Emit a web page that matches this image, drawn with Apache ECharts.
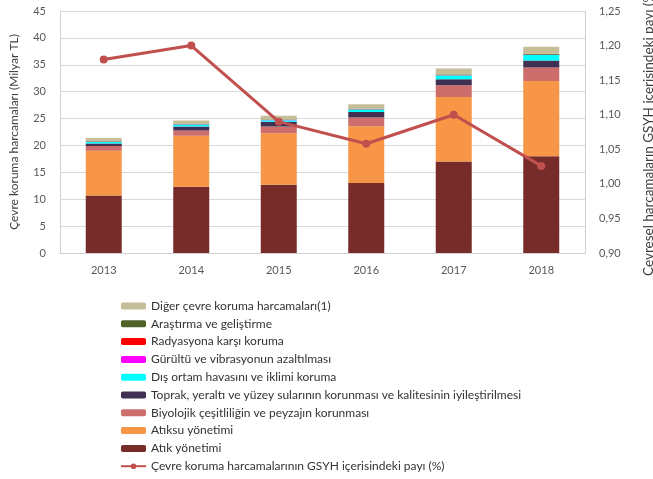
<!DOCTYPE html>
<html><head><meta charset="utf-8">
<script src="https://cdn.jsdelivr.net/npm/echarts@6/dist/echarts.min.js"></script>
<style>html,body{margin:0;padding:0;background:#fff}#c{width:653px;height:479px}</style>
</head><body><div id="c"></div>
<script>
const years = ['2013','2014','2015','2016','2017','2018'];
const atik = [10.7, 12.3, 12.7, 13.0, 17.0, 18.0];
const atiksu = [8.3, 9.5, 9.55, 10.55, 12.0, 14.0];
const biyolojik = [0.9, 1.0, 1.25, 1.65, 2.2, 2.5];
const toprak = [0.45, 0.7, 0.9, 1.0, 1.1, 1.3];
const disOrtam = [0.3, 0.4, 0.3, 0.5, 0.7, 1.0];
const gurultu = [0.03, 0.03, 0.03, 0.03, 0.04, 0.05];
const radyasyon = [0.01, 0.01, 0.01, 0.01, 0.01, 0.01];
const arastirma = [0.1, 0.1, 0.1, 0.1, 0.15, 0.2];
const diger = [0.6, 0.6, 0.7, 0.8, 1.1, 1.3];
const gsyhPayi = [1.18, 1.20, 1.09, 1.058, 1.10, 1.026];

const names = {
  diger: 'Diğer çevre koruma harcamaları(1)',
  arastirma: 'Araştırma ve geliştirme',
  radyasyon: 'Radyasyona karşı koruma',
  gurultu: 'Gürültü ve vibrasyonun azaltılması',
  dis: 'Dış ortam havasını ve iklimi koruma',
  toprak: 'Toprak, yeraltı ve yüzey sularının korunması ve kalitesinin iyileştirilmesi',
  biyo: 'Biyolojik çeşitliliğin ve peyzajın korunması',
  atiksu: 'Atıksu yönetimi',
  atik: 'Atık yönetimi',
  line: 'Çevre koruma harcamalarının GSYH içerisindeki payı (%)'
};
const font = 'Lato';
function bar(name, data, color) {
  return { name, type: 'bar', stack: 'total', data, barWidth: 36, itemStyle: { color }, emphasis: { disabled: true } };
}
const chart = echarts.init(document.getElementById('c'));
chart.setOption({
  animation: false,
  textStyle: { fontFamily: font },
  grid: { left: 60, right: 68, top: 11, bottom: 226, containLabel: false, outerBoundsMode: 'none' },
  legend: {
    orient: 'vertical', left: 120, top: 299, padding: 0, itemWidth: 25, itemHeight: 7, itemGap: 3.8,
    textStyle: { fontSize: 12, color: '#333', fontFamily: font, lineHeight: 14 },
    data: [names.diger, names.arastirma, names.radyasyon, names.gurultu, names.dis, names.toprak, names.biyo, names.atiksu, names.atik, names.line]
  },
  xAxis: {
    type: 'category', data: years,
    axisLine: { lineStyle: { color: '#d0d0d0' } }, axisTick: { show: false },
    axisLabel: { color: '#595959', fontSize: 11, margin: 12 }
  },
  yAxis: [
    { type: 'value', min: 0, max: 45, interval: 5, position: 'left',
      name: 'Çevre koruma harcamaları (Milyar TL)', nameLocation: 'middle', nameGap: 40, nameRotate: 90,
      nameTextStyle: { color: '#404040', fontSize: 12 },
      axisLine: { show: true, lineStyle: { color: '#d0d0d0' } },
      axisLabel: { color: '#595959', fontSize: 11, margin: 14 },
      splitLine: { lineStyle: { color: '#d9d9d9' } } },
    { type: 'value', min: 0.90, max: 1.25, interval: 0.05, position: 'right',
      name: 'Çevresel harcamaların GSYH içerisindeki payı (%)', nameLocation: 'middle', nameGap: 57, nameRotate: 90,
      nameTextStyle: { color: '#404040', fontSize: 13.5 },
      axisLine: { show: true, lineStyle: { color: '#d0d0d0' } },
      axisLabel: { color: '#595959', fontSize: 11, margin: 14, formatter: v => v.toFixed(2).replace('.', ',') },
      splitLine: { show: false } }
  ],
  series: [
    bar(names.atik, atik, '#772C2A'),
    bar(names.atiksu, atiksu, '#F79646'),
    bar(names.biyo, biyolojik, '#CD6E6C'),
    bar(names.toprak, toprak, '#403152'),
    bar(names.dis, disOrtam, '#00FFFF'),
    bar(names.gurultu, gurultu, '#FF00FF'),
    bar(names.radyasyon, radyasyon, '#FF0000'),
    bar(names.arastirma, arastirma, '#4F6228'),
    bar(names.diger, diger, '#C4BD97'),
    { name: names.line, type: 'line', yAxisIndex: 1, data: gsyhPayi, symbol: 'circle', symbolSize: 8,
      lineStyle: { color: '#C0504D', width: 3 }, itemStyle: { color: '#C0504D' }, z: 10 }
  ]
});
</script></body></html>
